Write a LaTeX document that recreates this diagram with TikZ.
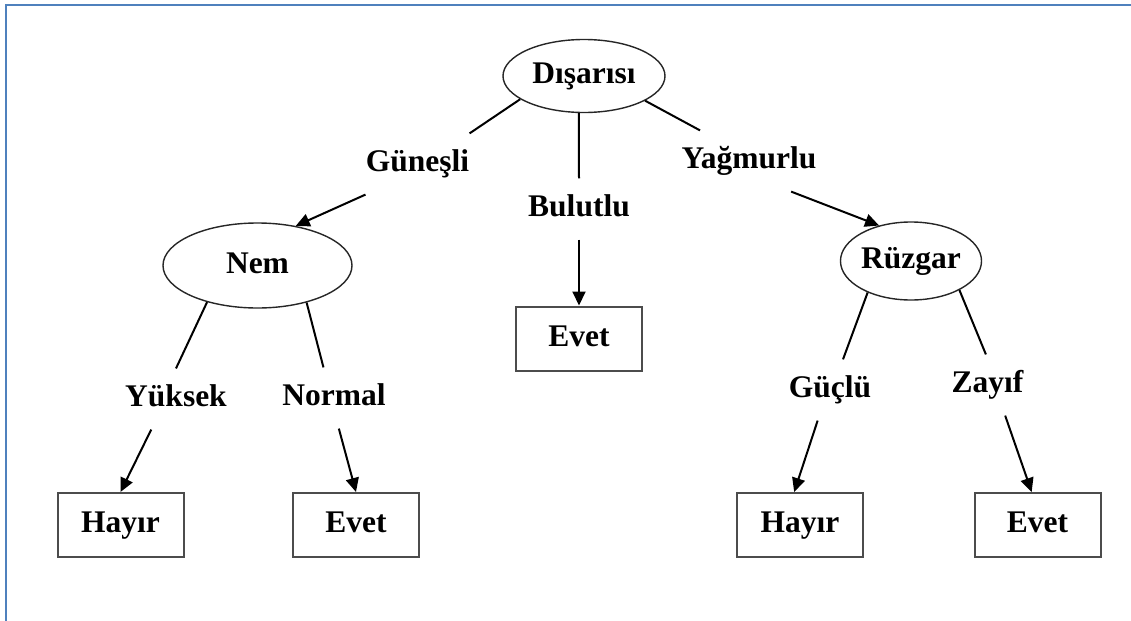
\documentclass[tikz,border=0pt]{standalone}
\usepackage{fontspec}
\setmainfont{Liberation Serif}
\usetikzlibrary{shapes.geometric,arrows.meta}
\definecolor{cerceve}{RGB}{79,129,189}
\begin{document}
\begin{tikzpicture}[x=0.5pt,y=-0.5pt,
		>={Triangle[length=7pt,width=6.5pt]},
		every node/.style={font=\bfseries\fontsize{15.75}{18}\selectfont,text height=11pt,text depth=3.2pt},
		kok/.style={ellipse,draw=black!85,line width=0.7pt,inner sep=0pt},
		yaprak/.style={rectangle,draw=black!70,line width=1pt,minimum width=63pt,minimum height=32pt,inner sep=0pt},
		dal/.style={inner xsep=0pt,inner ysep=8pt},
		cizgi/.style={line width=1pt}]
			\useasboundingbox (0,0) rectangle (1131,621);
			\draw[cerceve,line width=1pt] (6,621) -- (6,5) -- (1131,5);
			\node[kok,minimum width=81pt,minimum height=36.5pt] (dis) at (584,76) {Dışarısı};
			\node[kok,minimum width=94.5pt,minimum height=42.5pt] (nem) at (257.5,265.5) {Nem};
			\node[kok,minimum width=66pt,minimum height=39pt] (ruz) at (911,261) {Rüzgar};
			\node[dal] (gun) at (417.5,164) {Güneşli};
			\node[dal] (bul) at (579,209) {Bulutlu};
			\node[dal] (yag) at (749,161) {Yağmurlu};
			\node[dal] (yuk) at (176,399) {Yüksek};
			\node[dal] (nor) at (334,398) {Normal};
			\node[dal] (guc) at (830,390) {Güçlü};
			\node[dal] (zay) at (987.5,385) {Zayıf};
			\node[yaprak] (ev2) at (579,338.5) {Evet};
			\node[yaprak] (hay1) at (120.5,525) {Hayır};
			\node[yaprak] (ev1) at (356,525) {Evet};
			\node[yaprak] (hay2) at (800,525) {Hayır};
			\node[yaprak] (ev3) at (1037.5,525) {Evet};
			\draw[cizgi] (dis.200) -- (gun.north east);
			\draw[cizgi] (dis.-98) -- (bul.north);
			\draw[cizgi] (dis.-22) -- (yag.148);
			\draw[cizgi,->] (gun.south west) -- (nem.46);
			\draw[cizgi,->] (bul.south) -- (ev2.north);
			\draw[cizgi,->] (yag.-36) -- (ruz.132);
			\draw[cizgi] (nem.216) -- (yuk.north);
			\draw[cizgi] (nem.-37) -- (nor.109);
			\draw[cizgi,->] (yuk.-129) -- (hay1.north);
			\draw[cizgi,->] (nor.-81) -- (ev1.north);
			\draw[cizgi] (ruz.216) -- (guc.67);
			\draw[cizgi] (ruz.-31) -- (zay.93);
			\draw[cizgi,->] (guc.-112) -- (hay2.100);
			\draw[cizgi,->] (zay.-60) -- (ev3.100);
		\end{tikzpicture}
\end{document}
